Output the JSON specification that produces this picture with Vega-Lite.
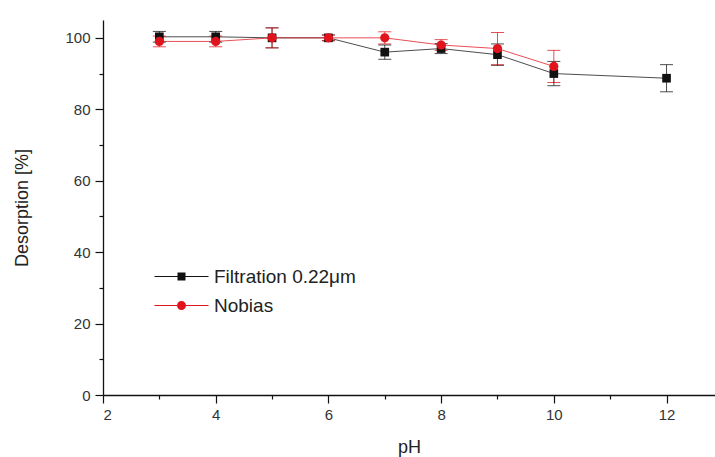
{
  "$schema": "https://vega.github.io/schema/vega-lite/v6.json",
  "width": 612,
  "height": 375,
  "autosize": {"type": "none"},
  "padding": {"left": 103, "top": 20, "right": 0, "bottom": 62},
  "background": "white",
  "config": {
    "view": {"stroke": null},
    "font": "Liberation Sans",
    "axis": {
      "grid": false,
      "domainColor": "#111",
      "domainWidth": 1.3,
      "tickColor": "#111",
      "tickWidth": 1.2,
      "labelColor": "#333",
      "labelFontSize": 15,
      "labelFont": "Liberation Sans",
      "titleFont": "Liberation Sans",
      "titleFontSize": 18,
      "titleFontWeight": "normal",
      "titleColor": "#222"
    },
    "legend": {
      "orient": "none",
      "legendX": 69,
      "legendY": 247,
      "title": null,
      "padding": 0,
      "symbolSize": 100,
      "symbolOpacity": 1,
      "symbolStrokeWidth": 0,
      "labelFontSize": 19,
      "labelFont": "Liberation Sans",
      "labelColor": "#222",
      "labelOffset": 23,
      "rowPadding": 9
    }
  },
  "data": {
    "values": [
      {"series": "Filtration 0.22μm", "ph": 3, "v": 100.3, "e": 1.5},
      {"series": "Filtration 0.22μm", "ph": 4, "v": 100.3, "e": 1.5},
      {"series": "Filtration 0.22μm", "ph": 5, "v": 100, "e": 2.8},
      {"series": "Filtration 0.22μm", "ph": 6, "v": 100, "e": 0.8},
      {"series": "Filtration 0.22μm", "ph": 7, "v": 96, "e": 2},
      {"series": "Filtration 0.22μm", "ph": 8, "v": 97, "e": 1.4},
      {"series": "Filtration 0.22μm", "ph": 9, "v": 95.3, "e": 3},
      {"series": "Filtration 0.22μm", "ph": 10, "v": 90, "e": 3.4},
      {"series": "Filtration 0.22μm", "ph": 12, "v": 88.7, "e": 3.8},
      {"series": "Nobias", "ph": 3, "v": 99, "e": 1.5},
      {"series": "Nobias", "ph": 4, "v": 99, "e": 1.5},
      {"series": "Nobias", "ph": 5, "v": 100, "e": 2.8},
      {"series": "Nobias", "ph": 6, "v": 100, "e": 0.8},
      {"series": "Nobias", "ph": 7, "v": 100, "e": 1.7},
      {"series": "Nobias", "ph": 8, "v": 98, "e": 1.5},
      {"series": "Nobias", "ph": 9, "v": 97, "e": 4.5},
      {"series": "Nobias", "ph": 10, "v": 92, "e": 4.5}
    ]
  },
  "resolve": {"axis": {"x": "independent", "y": "independent"}},
  "layer": [
    {
      "mark": {"type": "line", "strokeWidth": 1, "opacity": 0.75},
      "encoding": {
        "x": {"field": "ph", "type": "quantitative",
          "scale": {"domain": [2, 12.86], "nice": false, "zero": false},
          "axis": {"values": [2, 4, 6, 8, 10, 12], "tickSize": 8, "labelPadding": 4, "title": "pH", "titlePadding": 16, "orient": "bottom"}},
        "y": {"field": "v", "type": "quantitative",
          "scale": {"domain": [0, 105], "nice": false, "zero": true},
          "axis": {"values": [0, 20, 40, 60, 80, 100], "tickSize": 8, "labelPadding": 5, "title": "Desorption [%]", "titlePadding": 33, "orient": "left"}},
        "color": {"field": "series", "type": "nominal",
          "scale": {"domain": ["Filtration 0.22μm", "Nobias"], "range": ["#111111", "#e0141c"]}},
        "detail": {"field": "series"}
      }
    },
    {
      "mark": {"type": "errorbar", "ticks": {"size": 13}, "opacity": 0.75},
      "encoding": {
        "x": {"field": "ph", "type": "quantitative", "axis": null},
        "y": {"field": "v", "type": "quantitative", "axis": null},
        "yError": {"field": "e"},
        "color": {"field": "series", "type": "nominal"}
      }
    },
    {
      "mark": {"type": "point", "opacity": 0},
      "encoding": {
        "x": {"field": "ph", "type": "quantitative",
          "axis": {"values": [3, 5, 7, 9, 11], "tickSize": 4, "labels": false, "domain": false, "title": null, "orient": "bottom"}},
        "y": {"field": "v", "type": "quantitative",
          "axis": {"values": [10, 30, 50, 70, 90], "tickSize": 4, "labels": false, "domain": false, "title": null, "orient": "left"}}
      }
    },
    {
      "transform": [{"filter": "datum.series === 'Filtration 0.22μm'"}],
      "mark": {"type": "point", "shape": "square", "filled": true, "size": 75, "opacity": 1},
      "encoding": {
        "x": {"field": "ph", "type": "quantitative", "axis": null},
        "y": {"field": "v", "type": "quantitative", "axis": null},
        "color": {"field": "series", "type": "nominal"}
      }
    },
    {
      "transform": [{"filter": "datum.series === 'Nobias'"}],
      "mark": {"type": "point", "shape": "circle", "filled": true, "size": 85, "opacity": 1},
      "encoding": {
        "x": {"field": "ph", "type": "quantitative", "axis": null},
        "y": {"field": "v", "type": "quantitative", "axis": null},
        "color": {"field": "series", "type": "nominal"}
      }
    },
    {
      "transform": [{"filter": "datum.ph > 100"}],
      "mark": {"type": "point", "filled": true, "opacity": 1},
      "encoding": {
        "x": {"field": "ph", "type": "quantitative", "axis": null},
        "y": {"field": "v", "type": "quantitative", "axis": null},
        "color": {"field": "series", "type": "nominal"},
        "shape": {"field": "series", "type": "nominal",
          "scale": {"domain": ["Filtration 0.22μm", "Nobias"],
            "range": ["M-5.4,-0.1H-0.8V0.1H-5.4Z M0.8,-0.1H5.4V0.1H0.8Z M-0.8,-0.8H0.8V0.8H-0.8Z",
                      "M-5.4,-0.1H-0.9V0.1H-5.4Z M0.9,-0.1H5.4V0.1H0.9Z M-0.9,0A0.9,0.9 0 1,0 0.9,0A0.9,0.9 0 1,0 -0.9,0Z"]}}
      }
    }
  ]
}
